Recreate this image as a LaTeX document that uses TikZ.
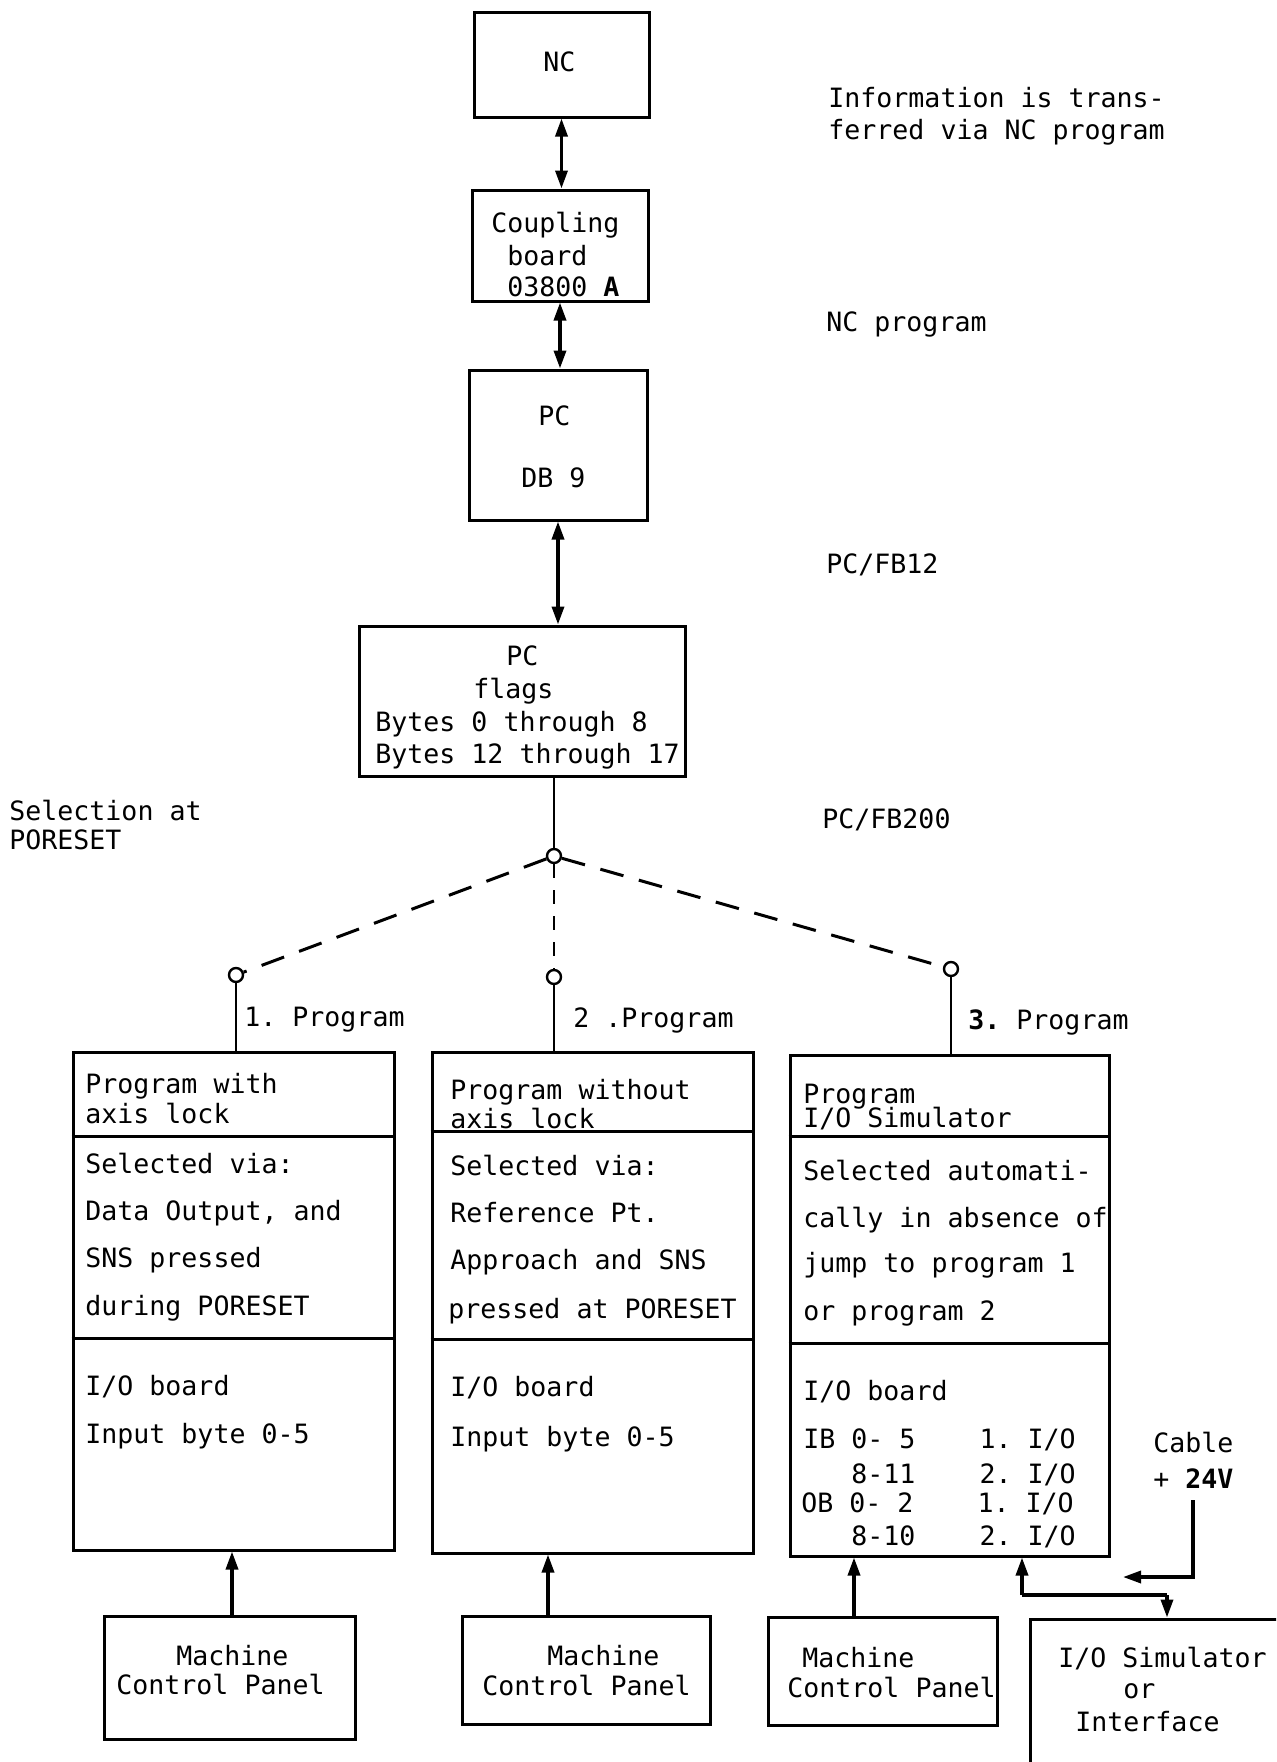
\documentclass[tikz,border=0pt]{standalone}
\usepackage{fontspec}
\setmainfont{DejaVu Sans Mono}[WordSpace={1,0,0}]
\usetikzlibrary{arrows.meta}
\newcommand\dfont{\fontsize{13.3}{16}\selectfont\frenchspacing}
\begin{document}
\begin{tikzpicture}[x=0.5pt,y=-0.5pt,
  box/.style={draw, line width=1.5pt, inner sep=0pt, rectangle},
  txt/.style={anchor=base west, inner sep=0pt, font=\dfont},
  arr/.style={line width=1.7pt, -{Triangle[length=9pt,width=6pt]}},
  dbl/.style={line width=1.7pt, {Triangle[length=9pt,width=6pt]}-{Triangle[length=9pt,width=6pt]}},
  sw/.style={circle, draw, line width=1.2pt, fill=white, minimum size=7pt, inner sep=0pt},
  dsh/.style={line width=1.5pt, dash pattern=on 12pt off 8pt},
  divl/.style={line width=1.5pt},
  stem/.style={line width=1.2pt}
]
\clip (0,0) rectangle (1276,1762);
\fill[white] (0,0) rectangle (1276,1762);

% boxes
\node[box, minimum width=87.5pt, minimum height=52.5pt] (nc) at (561.5,64.5) {};
\node[box, minimum width=88pt, minimum height=55.5pt] (cb) at (560,245.5) {};
\node[box, minimum width=89pt, minimum height=75pt] (pc) at (558,445) {};
\node[box, minimum width=163pt, minimum height=75pt] (fl) at (522,701) {};
\node[box, minimum width=160.5pt, minimum height=249pt] (b1) at (233.5,1301) {};
\node[box, minimum width=160.5pt, minimum height=250.5pt] (b2) at (592.5,1302.5) {};
\node[box, minimum width=159.5pt, minimum height=250.5pt] (b3) at (949.5,1305.5) {};
\node[box, minimum width=125.5pt, minimum height=61.5pt] (m1) at (229.5,1677.5) {};
\node[box, minimum width=124pt, minimum height=54pt] (m2) at (586,1670) {};
\node[box, minimum width=114.5pt, minimum height=54pt] (m3) at (882.5,1671) {};
\node[box, minimum width=150pt, minimum height=100pt] (io) at (1180,1719) {};

% dividers
\draw[divl] (b1.west |- 0,1136) -- (b1.east |- 0,1136);
\draw[divl] (b1.west |- 0,1338) -- (b1.east |- 0,1338);
\draw[divl] (b2.west |- 0,1131) -- (b2.east |- 0,1131);
\draw[divl] (b2.west |- 0,1339) -- (b2.east |- 0,1339);
\draw[divl] (b3.west |- 0,1136) -- (b3.east |- 0,1136);
\draw[divl] (b3.west |- 0,1343) -- (b3.east |- 0,1343);

% selector
\node[sw] (c0) at (554,856) {};
\node[sw] (c1) at (236,975) {};
\node[sw] (c2) at (554,977) {};
\node[sw] (c3) at (951,969) {};
\draw[stem] (c0 |- fl.south) -- (c0);
\draw[dsh] (c0) -- (c1);
\draw[dsh] (c0) -- (c3);
\draw[line width=1pt, dash pattern=on 7pt off 6pt] (c0) -- (c2);
\draw[stem] (c1) -- (c1 |- b1.north);
\draw[stem] (c2) -- (c2 |- b2.north);
\draw[stem] (c3) -- (c3 |- b3.north);

% vertical arrows
\draw[dbl] (nc.south) -- (nc.south |- cb.north);
\draw[dbl] (cb.south) -- (cb.south |- pc.north);
\draw[dbl] (pc.south) -- (pc.south |- fl.north);

\coordinate (a1) at (232,1616);
\coordinate (a2) at (548,1616);
\coordinate (a3) at (854,1617);
\draw[arr] (a1) -- (a1 |- b1.south);
\draw[arr] (a2) -- (a2 |- b2.south);
\draw[arr] (a3) -- (a3 |- b3.south);

\coordinate (j1) at (1022,1595);
\coordinate (j2) at (1167,1595);
\draw[arr] (j1) -- (j1 |- b3.south);
\draw[line width=1.7pt] (j1) -- (j2);
\draw[arr] (j2) -- (j2 |- io.north);
\coordinate (cab1) at (1193,1500);
\coordinate (cab2) at (1123,1577);
\draw[arr] (cab1) |- (cab2);

% texts
\node[txt] (nct) at (543,71) {NC};
\node[txt] (inf1) at (828,107) {Information is trans-};
\node[txt] (inf2) at (828,139) {ferred via NC program};
\node[txt] (cbt1) at (491,232) {Coupling};
\node[txt] (cbt2) at (507,265) {board};
\node[txt] (cbt3) at (507,296) {03800 \textbf{A}};
\node[txt] (ncp) at (826,331) {NC program};
\node[txt] (pct1) at (538,425) {PC};
\node[txt] (pct2) at (521,487) {DB 9};
\node[txt] (fb12) at (826,573) {PC/FB12};
\node[txt] (flt1) at (506,665) {PC};
\node[txt] (flt2) at (473,698) {flags};
\node[txt] (flt3) at (375,731) {Bytes 0 through 8};
\node[txt] (flt4) at (375,763) {Bytes 12 through 17};
\node[txt] (sel1) at (9,820) {Selection at};
\node[txt] (sel2) at (9,849) {PORESET};
\node[txt] (fb200) at (822,828) {PC/FB200};
\node[txt] (p1) at (244,1026) {1. Program};
\node[txt] (p2) at (573,1027) {2 .Program};
\node[txt] (p3) at (968,1029) {\textbf{3.} Program};

\node[txt] (b1a) at (85,1093) {Program with};
\node[txt] (b1b) at (85,1123) {axis lock};
\node[txt] (b1c) at (85,1173) {Selected via:};
\node[txt] (b1d) at (85,1220) {Data Output, and};
\node[txt] (b1e) at (85,1267) {SNS pressed};
\node[txt] (b1f) at (85,1315) {during PORESET};
\node[txt] (b1g) at (85,1395) {I/O board};
\node[txt] (b1h) at (85,1443) {Input byte 0-5};

\node[txt] (b2a) at (450,1099) {Program without};
\node[txt] (b2b) at (450,1128) {axis lock};
\node[txt] (b2c) at (450,1175) {Selected via:};
\node[txt] (b2d) at (450,1222) {Reference Pt.};
\node[txt] (b2e) at (450,1269) {Approach and SNS};
\node[txt] (b2f) at (448,1318) {pressed at PORESET};
\node[txt] (b2g) at (450,1396) {I/O board};
\node[txt] (b2h) at (450,1446) {Input byte 0-5};

\node[txt] (b3a) at (803,1103) {Program};
\node[txt] (b3b) at (803,1127) {I/O Simulator};
\node[txt] (b3c) at (803,1180) {Selected automati-};
\node[txt] (b3d) at (803,1227) {cally in absence of};
\node[txt] (b3e) at (803,1272) {jump to program 1};
\node[txt] (b3f) at (803,1320) {or program 2};
\node[txt] (b3g) at (803,1400) {I/O board};
\node[txt] (b3h) at (803,1448) {IB 0-~5~~~~1.~I/O};
\node[txt] (b3i) at (803,1483) {~~~8-11~~~~2.~I/O};
\node[txt] (b3j) at (801,1512) {OB 0-~2~~~~1.~I/O};
\node[txt] (b3k) at (803,1545) {~~~8-10~~~~2.~I/O};

\node[txt] (m1a) at (176,1665) {Machine};
\node[txt] (m1b) at (116,1694) {Control Panel};
\node[txt] (m2a) at (547,1665) {Machine};
\node[txt] (m2b) at (482,1695) {Control Panel};
\node[txt] (m3a) at (802,1667) {Machine};
\node[txt] (m3b) at (787,1697) {Control Panel};
\node[txt] (ioa) at (1058,1667) {I/O Simulator};
\node[txt] (iob) at (1123,1698) {or};
\node[txt] (ioc) at (1075,1731) {Interface};

\node[txt] (cab) at (1153,1452) {Cable};
\node[txt] (v24) at (1153,1488) {+ \textbf{24V}};
\end{tikzpicture}
\end{document}
